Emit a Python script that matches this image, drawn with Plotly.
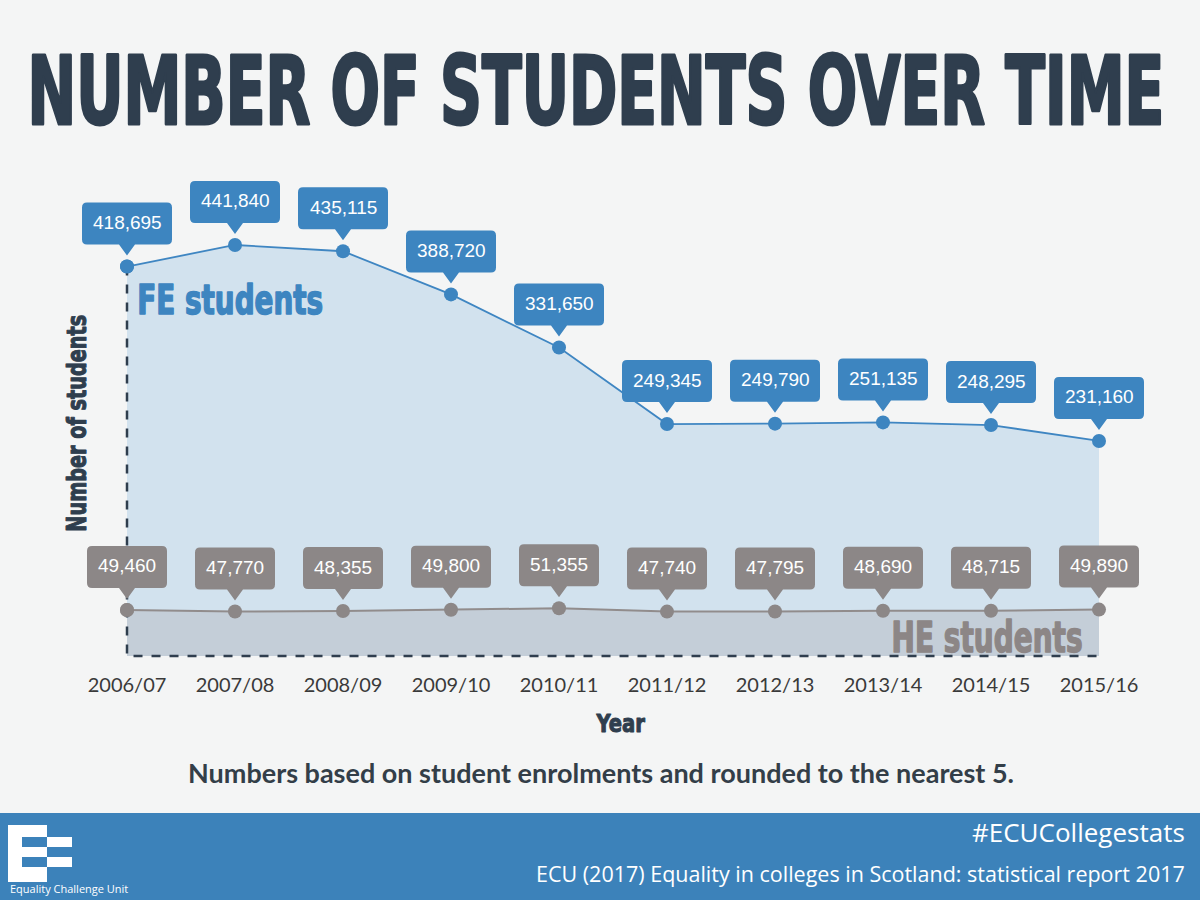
import json
import plotly.graph_objects as go

years = ["2006/07", "2007/08", "2008/09", "2009/10", "2010/11",
         "2011/12", "2012/13", "2013/14", "2014/15", "2015/16"]
fe_students = [418695, 441840, 435115, 388720, 331650,
               249345, 249790, 251135, 248295, 231160]
he_students = [49460, 47770, 48355, 49800, 51355,
               47740, 47795, 48690, 48715, 49890]

W, H = 1200, 900
BG = "#f4f5f5"
DARK = "#2f3e4e"
BLUE = "#3d85c0"
GRAY = "#8c8787"
COND = "DejaVu Sans Condensed, DejaVu Sans, sans-serif"
LATO = "Lato, Open Sans, sans-serif"
FOOT = "Open Sans, Lato, sans-serif"

def px(x):
    return x / W

def py(y):
    return 1 - y / H

xs = list(range(len(years)))

fig = go.Figure()

fig.add_trace(go.Scatter(
    x=xs, y=fe_students, mode="lines+markers", fill="tozeroy",
    fillcolor="#d2e2ee", line=dict(color="#3f86c2", width=1.8),
    marker=dict(color=BLUE, size=14), hoverinfo="skip", showlegend=False))
fig.add_trace(go.Scatter(
    x=xs, y=he_students, mode="lines+markers", fill="tozeroy",
    fillcolor="#c4ced8", line=dict(color="#918c8c", width=2),
    marker=dict(color=GRAY, size=14), hoverinfo="skip", showlegend=False))
fig.add_trace(go.Scatter(
    x=[xs[0], xs[0], xs[-1]], y=[fe_students[0], 0, 0], mode="lines",
    line=dict(color=DARK, width=2.5, dash="dash"), hoverinfo="skip",
    showlegend=False))
fig.add_trace(go.Scatter(
    x=[xs[0], xs[0]], y=[fe_students[0], he_students[0]], mode="markers",
    marker=dict(color=[BLUE, GRAY], size=14), hoverinfo="skip", showlegend=False))

def bubble(hw, bottom=22, height=42, r=5, tip=11, tw=8):
    top = bottom + height
    return (f"M {-hw + r},{bottom} L {-tw},{bottom} L 0,{tip} L {tw},{bottom} "
            f"L {hw - r},{bottom} Q {hw},{bottom} {hw},{bottom + r} "
            f"L {hw},{top - r} Q {hw},{top} {hw - r},{top} "
            f"L {-hw + r},{top} Q {-hw},{top} {-hw},{top - r} "
            f"L {-hw},{bottom + r} Q {-hw},{bottom} {-hw + r},{bottom} Z")

shapes = []
annotations = []
for series, color, hw in ((fe_students, BLUE, 45), (he_students, GRAY, 40)):
    for x, v in zip(xs, series):
        shapes.append(dict(
            type="path", xref="x", yref="y", xsizemode="pixel", ysizemode="pixel",
            xanchor=x, yanchor=v, path=bubble(hw), fillcolor=color,
            line=dict(width=0), layer="above"))
        annotations.append(dict(
            x=x, y=v, xref="x", yref="y", text=f"{v:,}", showarrow=False,
            yshift=44, font=dict(family="Liberation Sans, Arial, sans-serif",
                                 size=19, color="white")))

shapes.append(dict(type="rect", xref="paper", yref="paper", x0=0, x1=1,
                   y0=0, y1=py(813), fillcolor="#3c82ba", line=dict(width=0),
                   layer="below"))
for (x0, y0, x1, y1, c) in [(8, 825, 47, 882, "white"),
                            (22, 837, 47, 847, "#3c82ba"),
                            (22, 857, 47, 867, "#3c82ba"),
                            (47, 837, 72, 847, "white"),
                            (47, 857, 72, 867, "white")]:
    shapes.append(dict(type="rect", xref="paper", yref="paper",
                       x0=px(x0), x1=px(x1), y0=py(y1), y1=py(y0),
                       fillcolor=c, line=dict(width=0), layer="above"))

def txt(x, y, text, size, color, family, xanchor="center", angle=0, weight="normal"):
    annotations.append(dict(
        x=px(x), y=py(y), xref="paper", yref="paper", text=text,
        showarrow=False, xanchor=xanchor, yanchor="middle", textangle=angle,
        font=dict(size=size, color=color, family=family, weight=weight)))

title_text = "NUMBER OF STUDENTS OVER TIME"
txt(596, 91, title_text, 94, DARK, COND, weight="bold")
txt(230, 300, "FE students", 40, BLUE, COND, weight="bold")
txt(987, 637, "HE students", 42, "#8c8686", COND, weight="bold")
txt(77, 424, "Number of students", 26, DARK, COND, angle=-90, weight="bold")
txt(620, 723, "Year", 25, DARK, COND, weight="bold")
txt(601, 772, "Numbers based on student enrolments and rounded to the nearest 5.",
    27, "#333e48", LATO, weight="bold")
txt(1187, 832, "#ECUCollegestats", 26, "white", FOOT, xanchor="right")
txt(1187, 873, "ECU (2017) Equality in colleges in Scotland: statistical report 2017",
    21.5, "white", FOOT, xanchor="right")
txt(8, 888, "Equality Challenge Unit", 11, "white", FOOT, xanchor="left")

ppu = 1 / 1075.0
zero_px = 656
y_lo, y_hi = -6000, 530000
bottom_px = zero_px - y_lo * ppu
top_px = zero_px - y_hi * ppu

fig.update_layout(
    width=W, height=H, paper_bgcolor=BG, plot_bgcolor=BG,
    margin=dict(l=0, r=0, t=0, b=0),
    xaxis=dict(domain=[px(73), px(1153)], range=[-0.5, 9.5],
               tickvals=xs, ticktext=years, showgrid=False, zeroline=False,
               showline=False, ticks="", ticklabelstandoff=9,
               tickfont=dict(family=LATO, size=20, color="#3a3a3a")),
    yaxis=dict(domain=[py(bottom_px), py(top_px)], range=[y_lo, y_hi],
               showgrid=False, zeroline=False, showline=False,
               showticklabels=False, ticks=""),
    shapes=shapes, annotations=annotations,
)

# target rendered lengths (px) and stroke thickening of the heavy condensed headings
target_widths = {title_text: [1137, 3], "FE students": [186, 1.5],
                 "HE students": [191, 1.5], "Number of students": [217, 1],
                 "Year": [50, 1]}

post = """
document.body.style.margin = '0';
document.body.style.overflow = 'hidden';
var targets = %s;
document.querySelectorAll('text.annotation-text').forEach(function(t) {
  var w = targets[t.textContent];
  if (w) {
    var bb = t.getBBox();
    var s = w[0] / bb.width;
    t.style.transformBox = 'fill-box';
    t.style.transformOrigin = 'center';
    t.style.transform = 'scaleX(' + s + ')';
    t.style.stroke = t.style.fill;
    t.style.strokeWidth = w[1] + 'px';
    t.style.strokeLinejoin = 'round';
  }
});
""" % json.dumps(target_widths)

fig.write_html("out.html", post_script=post, config={"displayModeBar": False})
